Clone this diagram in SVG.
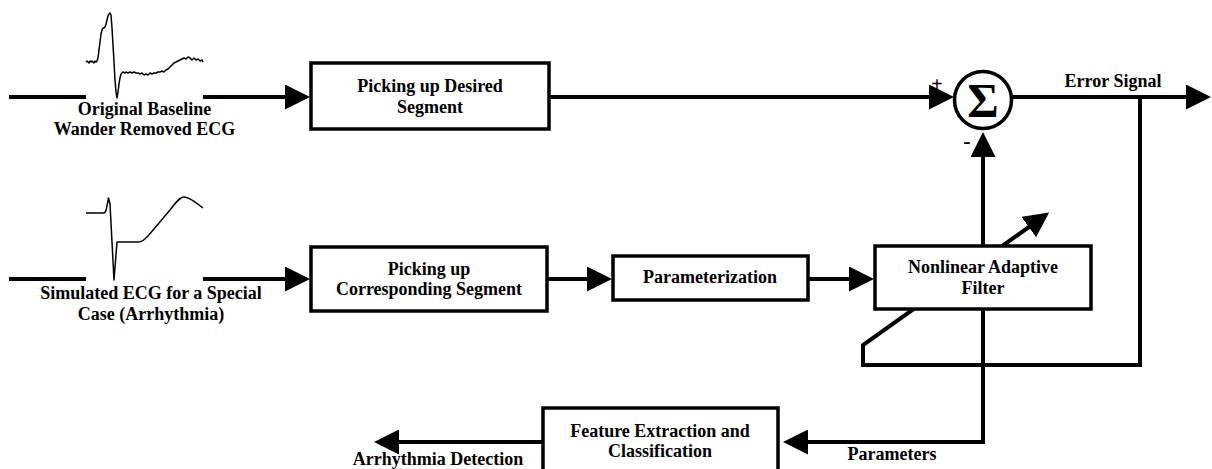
<svg xmlns="http://www.w3.org/2000/svg" width="1212" height="469" viewBox="0 0 1212 469">
<style>
text{font-family:'Liberation Serif','DejaVu Serif',serif;font-weight:bold;font-size:18px;fill:#000;text-anchor:middle}
.box{fill:#fff;stroke:#000;stroke-width:3.5}
.ln{fill:none;stroke:#000;stroke-width:4}
.arr{fill:none;stroke:#000;stroke-width:4;marker-end:url(#ah)}
.ecg{fill:none;stroke:#000;stroke-width:1.5;stroke-linejoin:round}
</style>
<defs>
<marker id="ah" viewBox="0 0 25 25" markerWidth="25" markerHeight="25" markerUnits="userSpaceOnUse" refX="1" refY="12.5" orient="auto">
<path d="M0,0 L25,12.5 L0,25 Z" fill="#000"/>
</marker>
</defs>
<rect width="1212" height="469" fill="#fff"/>
<g id="connectors">
<line class="ln" x1="9" y1="97" x2="86" y2="97"/>
<line class="arr" x1="203" y1="97" x2="286" y2="97"/>
<line class="arr" x1="549" y1="97" x2="930" y2="97"/>
<line class="arr" x1="1012" y1="97" x2="1187" y2="97"/>
<line class="ln" x1="9" y1="279" x2="86" y2="279"/>
<line class="arr" x1="203" y1="279" x2="286" y2="279"/>
<line class="arr" x1="547" y1="279" x2="588" y2="279"/>
<line class="arr" x1="808" y1="279" x2="850" y2="279"/>
<line class="arr" x1="983" y1="246" x2="983" y2="156"/>
<polyline class="arr" points="1140,97 1140,365 863,365 863,345 1029.6,226.5"/>
<polyline class="arr" points="983,309 983,442 807,442"/>
<line class="arr" x1="543" y1="442" x2="398" y2="442"/>
</g>
<g id="ecg-original">
<polyline class="ecg" points="86,62 87,61 88,62 89,63 90,61 91,62 92,61 93,62 94,63 95,61 96,62 97,61 98,58 99,50 100,42 101,34 102,30 103,28 104,28 105,27 106,24 107,20 108,16 109,14 110,13 111,15 112,28 113,45 114,62 115,80 116,92 117,98 118,92 119,84 120,78 121,74 122,73 123,72 125,73 126,72 128,73 130,72 132,73 134,72 136,73 138,73 140,74 142,73 144,75 146,74 148,75 150,73 152,74 154,73 156,73 158,72 160,72 162,71 164,72 166,70 168,69 170,67 172,65 174,63 176,62 178,61 180,60 182,59 184,58 186,59 188,57 190,58 192,60 194,58 196,60 198,59 200,61 202,60 203,62"/>
<text x="144.5" y="115">Original Baseline</text>
<text x="144.5" y="135">Wander Removed ECG</text>
</g>
<g id="ecg-simulated">
<path class="ecg" d="M86,213 L103,213 C105,213 106,212 107,206 L108.5,198 L110,204 L114,280 L117,242 L138,242 C142,242 144,240 148,236 L170,210 C176,202 180,197 184,197 C190,197 196,203 203,208"/>
<text x="151" y="299">Simulated ECG for a Special</text>
<text x="151" y="320">Case (Arrhythmia)</text>
</g>
<g id="box-desired">
<rect class="box" x="311" y="63" width="238" height="66"/>
<text x="430" y="92">Picking up Desired</text>
<text x="430" y="113">Segment</text>
</g>
<g id="box-corresponding">
<rect class="box" x="311" y="247" width="236" height="64"/>
<text x="429" y="275">Picking up</text>
<text x="429" y="295">Corresponding Segment</text>
</g>
<g id="box-param">
<rect class="box" x="613" y="256" width="195" height="44"/>
<text x="710" y="283">Parameterization</text>
</g>
<g id="box-filter">
<rect class="box" x="875" y="246" width="216" height="63"/>
<text x="983" y="273">Nonlinear Adaptive</text>
<text x="983" y="294">Filter</text>
</g>
<g id="box-feature">
<rect class="box" x="543" y="408" width="235" height="70"/>
<text x="660" y="437">Feature Extraction and</text>
<text x="660" y="457">Classification</text>
</g>
<g id="sum">
<circle cx="983" cy="100" r="28.5" fill="#fff" stroke="#000" stroke-width="3.5"/>
<text x="983" y="117" style="font-size:48px">Σ</text>
<text x="937" y="91" style="font-size:20px">+</text>
<text x="967" y="148" style="font-size:22px">-</text>
</g>
<g id="labels">
<text x="1113" y="87">Error Signal</text>
<text x="892" y="460">Parameters</text>
<text x="438" y="465">Arrhythmia Detection</text>
</g>
</svg>
